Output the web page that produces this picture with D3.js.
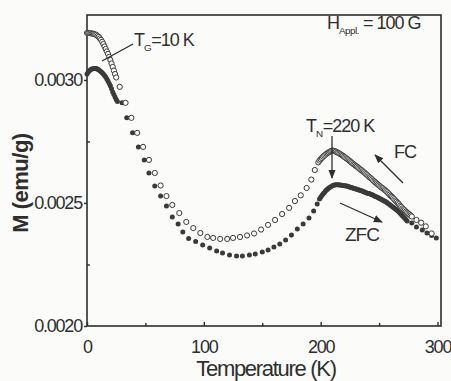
<!DOCTYPE html>
<html>
<head>
<meta charset="utf-8">
<script src="https://cdn.jsdelivr.net/npm/d3@7"></script>
<style>
  html, body { margin: 0; padding: 0; background: #fbfbfa; }
  svg { display: block; font-family: "Liberation Sans", Arial, sans-serif; }
</style>
</head>
<body>
<svg id="chart" width="451" height="381"></svg>
<script>
// ---- data ----
// FC (open circles): low-T dense part, sparse middle part, dense part near T_N, high-T tail
const fcT = [0,1,2,3,4,5,6,7,8,9,10,11,12,13,14,15,16,17,18,19,20,21,22,23,24,25,
  28,33,38,43,48,53,58,63,68,73,79,85,91,97,103,108,114,120,125,131,137,143,149,155,161,167,173,178,183,188,192,195,
  198,199,200,201,202,203,204,205,206,207,208,209,210,211,212,213,214,215,216,217,218,219,220,221,222,223,224,225,226,227,228,229,230,
  231,232,233,234,235,236,237,238,239,240,241,242,243,244,245,246,247,248,249,250,251,252,253,254,255,256,257,258,259,260,
  261,262,263,264,265,266,267,268,269,270,271,272,273,274,275,276,277,278,
  282,286,290,295];
const fcM = [0.003191,0.003191,0.003191,0.003190,0.003189,0.003188,0.003187,0.003185,0.003183,0.003179,0.003175,0.003169,0.003163,0.003155,0.003146,0.003136,0.003126,0.003116,0.003106,0.003094,0.003081,0.003067,0.003053,0.003038,0.003024,0.003010,
  0.002972,0.002907,0.002846,0.002785,0.002728,0.002675,0.002622,0.002571,0.002528,0.002492,0.002459,0.002423,0.002398,0.002378,0.002362,0.002358,0.002354,0.002354,0.002358,0.002362,0.002368,0.002376,0.002392,0.002411,0.002431,0.002455,0.002480,0.002508,0.002531,0.002561,0.002595,0.002634,
  0.002665,0.002672,0.002678,0.002683,0.002688,0.002692,0.002696,0.002700,0.002703,0.002706,0.002709,0.002711,0.002713,0.002712,0.002711,0.002709,0.002706,0.002704,0.002701,0.002698,0.002695,0.002692,0.002688,0.002685,0.002681,0.002678,0.002674,0.002670,0.002666,0.002662,0.002658,0.002655,0.002651,
  0.002648,0.002644,0.002640,0.002636,0.002633,0.002629,0.002625,0.002621,0.002617,0.002613,0.002608,0.002604,0.002600,0.002596,0.002591,0.002587,0.002583,0.002579,0.002575,0.002571,0.002567,0.002563,0.002560,0.002556,0.002552,0.002548,0.002544,0.002539,0.002534,0.002529,
  0.002525,0.002520,0.002515,0.002510,0.002505,0.002500,0.002495,0.002489,0.002484,0.002478,0.002474,0.002470,0.002465,0.002461,0.002457,0.002453,0.002449,0.002445,
  0.002431,0.002420,0.002405,0.002376];

// ZFC (filled circles)
const zfcT = [0,1,2,3,4,5,6,7,8,9,10,11,12,13,14,15,16,17,18,19,20,21,22,23,24,25,26,
  30,34,39,44,49,53,58,63,68,73,78,82,87,93,99,105,111,116,122,128,133,139,144,150,155,160,165,170,175,180,185,190,194,197,
  199,200,201,202,203,204,205,206,207,208,209,210,211,212,213,214,215,216,217,218,219,220,221,222,223,224,225,226,227,228,229,230,
  231,232,233,234,235,236,237,238,239,240,241,242,243,244,245,246,247,248,249,250,251,252,253,254,255,256,257,258,259,260,
  261,262,263,264,265,266,267,268,269,270,271,272,273,274,
  278,282,287,291,295,299];
const zfcM = [0.003024,0.003031,0.003037,0.003041,0.003045,0.003046,0.003047,0.003047,0.003047,0.003044,0.003041,0.003037,0.003033,0.003029,0.003024,0.003018,0.003012,0.003004,0.002996,0.002986,0.002976,0.002964,0.002951,0.002941,0.002931,0.002921,0.002912,
  0.002907,0.002846,0.002785,0.002728,0.002675,0.002622,0.002569,0.002528,0.002488,0.002443,0.002415,0.002382,0.002356,0.002343,0.002329,0.002317,0.002305,0.002297,0.002289,0.002285,0.002285,0.002289,0.002293,0.002301,0.002309,0.002321,0.002333,0.002350,0.002370,0.002394,0.002415,0.002439,0.002467,0.002496,
  0.002516,0.002523,0.002530,0.002536,0.002542,0.002548,0.002553,0.002557,0.002561,0.002564,0.002567,0.002570,0.002572,0.002573,0.002574,0.002574,0.002574,0.002573,0.002573,0.002572,0.002571,0.002570,0.002570,0.002569,0.002568,0.002566,0.002565,0.002563,0.002562,0.002560,0.002559,0.002557,
  0.002556,0.002554,0.002553,0.002551,0.002550,0.002548,0.002546,0.002544,0.002542,0.002540,0.002539,0.002537,0.002535,0.002533,0.002531,0.002528,0.002526,0.002524,0.002522,0.002519,0.002517,0.002514,0.002512,0.002509,0.002507,0.002504,0.002501,0.002497,0.002494,0.002490,
  0.002487,0.002483,0.002480,0.002476,0.002472,0.002468,0.002463,0.002458,0.002453,0.002448,0.002443,0.002438,0.002433,0.002427,
  0.002419,0.002402,0.002390,0.002378,0.002368,0.002358];

const xTicks = [0, 100, 200, 300];
const xMinor = [50, 150, 250];
const yTicks = [0.0020, 0.0025, 0.0030];
const yMinor = [0.00225, 0.00275];
const xLabel = "Temperature (K)";
const yLabel = "M (emu/g)";

// ---- drawing ----
const svg = d3.select("#chart");
const ink = "#2e2e2e";
const L = 87, R = 441, T = 15, B = 326;
const x = d3.scaleLinear().domain([0, 303]).range([L, R]);
const y = d3.scaleLinear().domain([0.0020, 0.003264]).range([B, T]);

// frame
svg.append("rect").attr("x", L).attr("y", T).attr("width", R - L).attr("height", B - T)
  .attr("fill", "none").attr("stroke", ink).attr("stroke-width", 1.6);

// x axis
const gx = svg.append("g").attr("transform", `translate(0,${B})`)
  .call(d3.axisBottom(x).tickValues(xTicks).tickSize(-4).tickPadding(14).tickFormat(d3.format("d")));
const gxm = svg.append("g").attr("transform", `translate(0,${B})`)
  .call(d3.axisBottom(x).tickValues(xMinor).tickSize(-3).tickFormat(""));
// y axis
const gy = svg.append("g").attr("transform", `translate(${L},0)`)
  .call(d3.axisLeft(y).tickValues(yTicks).tickSize(3).tickPadding(2).tickFormat(d3.format(".4f")));
const gym = svg.append("g").attr("transform", `translate(${L},0)`)
  .call(d3.axisLeft(y).tickValues(yMinor).tickSize(-3).tickFormat(""));

[gx, gxm, gy, gym].forEach(g => {
  g.select(".domain").remove();
  g.selectAll("line").attr("stroke", ink).attr("stroke-width", 1.4);
  g.selectAll("text").attr("fill", ink).style("font-size", "18px").style("letter-spacing", "-1.2px");
});
gy.selectAll("text").attr("dy", "0.32em");

// axis titles
svg.append("text").attr("x", 266).attr("y", 376).attr("text-anchor", "middle")
  .attr("fill", ink).style("font-size", "22px").style("letter-spacing", "-1.3px").text(xLabel);
svg.append("text").attr("transform", "translate(28,183) rotate(-90)").attr("text-anchor", "middle")
  .attr("fill", ink).style("font-size", "22px").style("font-weight", "bold").style("letter-spacing", "-0.5px").text(yLabel);

// data points
const fc = fcT.map((t, i) => [t, fcM[i]]);
const zfc = zfcT.map((t, i) => [t, zfcM[i]]);

svg.append("g").selectAll("circle").data(zfc).join("circle")
  .attr("cx", d => x(d[0])).attr("cy", d => y(d[1])).attr("r", 2.5)
  .attr("fill", "#3a3a3a");
svg.append("g").selectAll("circle").data(fc).join("circle")
  .attr("cx", d => x(d[0])).attr("cy", d => y(d[1])).attr("r", 2.6)
  .attr("fill", "#fbfbfa").attr("stroke", "#3a3a3a").attr("stroke-width", 1);

// annotations
const defs = svg.append("defs");
defs.append("marker").attr("id", "ah").attr("viewBox", "0 0 10 10").attr("refX", 9).attr("refY", 5)
  .attr("markerWidth", 7).attr("markerHeight", 7).attr("orient", "auto")
  .append("path").attr("d", "M0,1 L10,5 L0,9 Z").attr("fill", ink);

function label(xp, yp, main, sub, rest, size) {
  const t = svg.append("text").attr("x", xp).attr("y", yp).attr("fill", ink)
    .style("font-size", size + "px").style("letter-spacing", "-1px");
  t.append("tspan").text(main);
  if (sub) t.append("tspan").attr("dy", 5).style("font-size", (size * 0.55) + "px").style("letter-spacing", "-0.5px").text(sub);
  if (rest) t.append("tspan").attr("dy", sub ? -5 : 0).text(rest);
  return t;
}
label(134, 46, "T", "G", "=10 K", 18);
label(327, 29, "H", "Appl.", " = 100 G", 18);
label(306, 132, "T", "N", "=220 K", 18);
label(394, 158, "FC", null, null, 18);
label(345, 241, "ZFC", null, null, 19);

svg.append("line").attr("x1", 102).attr("y1", 61).attr("x2", 133).attr("y2", 44)
  .attr("stroke", ink).attr("stroke-width", 1.3);
svg.append("line").attr("x1", 332).attr("y1", 136).attr("x2", 332).attr("y2", 178)
  .attr("stroke", ink).attr("stroke-width", 1.3).attr("marker-end", "url(#ah)");
svg.append("line").attr("x1", 403).attr("y1", 183).attr("x2", 375).attr("y2", 155)
  .attr("stroke", ink).attr("stroke-width", 1.3).attr("marker-end", "url(#ah)");
svg.append("line").attr("x1", 340).attr("y1", 203).attr("x2", 382).attr("y2", 222)
  .attr("stroke", ink).attr("stroke-width", 1.3).attr("marker-end", "url(#ah)");
</script>
</body>
</html>
